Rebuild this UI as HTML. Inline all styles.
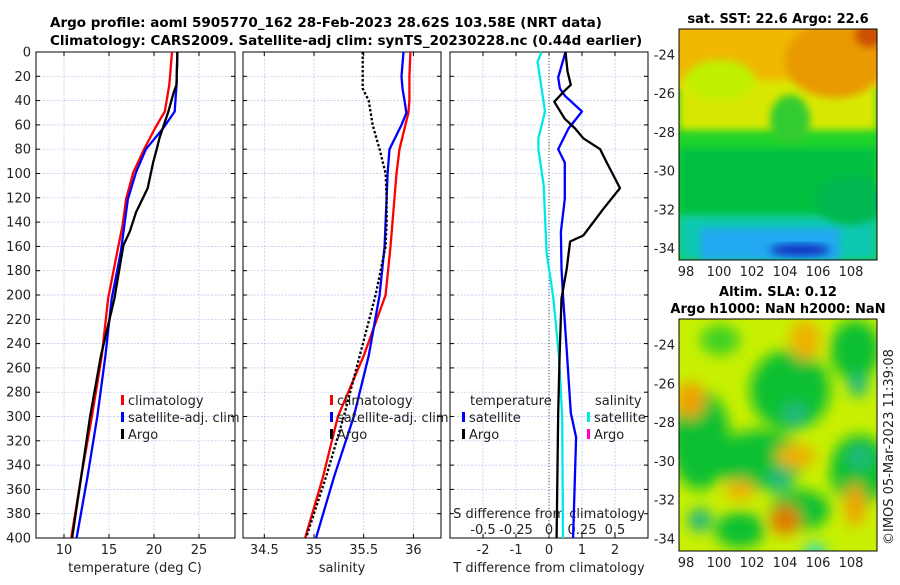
<!DOCTYPE html>
<html><head><meta charset="utf-8"><style>
body{margin:0;background:#fff;}
svg text{font-family:"DejaVu Sans","Liberation Sans",sans-serif;}
</style></head><body>
<svg id="c" width="900" height="580" xmlns="http://www.w3.org/2000/svg">
<defs>
<filter id="blur1" x="-20%" y="-20%" width="140%" height="140%"><feGaussianBlur stdDeviation="4"/></filter>
<filter id="blur2" x="-50%" y="-50%" width="200%" height="200%"><feGaussianBlur stdDeviation="7"/></filter>
<clipPath id="cm1"><rect x="679" y="29" width="198" height="231"/></clipPath>
<clipPath id="cm2"><rect x="679" y="319" width="198" height="232"/></clipPath>
</defs>
<text x="50" y="27" font-size="13.5" font-weight="bold">Argo profile: aoml 5905770_162 28-Feb-2023 28.62S 103.58E (NRT data)</text>
<text x="50" y="45" font-size="13.5" font-weight="bold">Climatology: CARS2009. Satellite-adj clim: synTS_20230228.nc (0.44d earlier)</text>
<g id="g"></g>
<g clip-path="url(#cm1)">
<rect x="679" y="29" width="198" height="231" fill="#1fd42a"/>
<rect x="679" y="29" width="198" height="60" fill="#f0b800"/>
<rect x="679" y="80" width="198" height="50" fill="#d8e800" filter="url(#blur1)"/>
<ellipse cx="835" cy="60" rx="50" ry="38" fill="#e89a00" filter="url(#blur1)"/>
<ellipse cx="870" cy="35" rx="15" ry="12" fill="#cc5000" filter="url(#blur1)"/>
<ellipse cx="720" cy="80" rx="35" ry="20" fill="#c0f000" filter="url(#blur1)"/>
<ellipse cx="790" cy="120" rx="20" ry="25" fill="#30cc30" filter="url(#blur1)"/>
<rect x="679" y="148" width="198" height="70" fill="#00c040" filter="url(#blur1)"/>
<rect x="679" y="215" width="198" height="45" fill="#10c8b0" filter="url(#blur1)"/>
<rect x="700" y="228" width="140" height="32" fill="#20a8f0" filter="url(#blur1)"/>
<ellipse cx="800" cy="250" rx="30" ry="6" fill="#1030c0" filter="url(#blur1)"/>
<ellipse cx="850" cy="200" rx="35" ry="25" fill="#00b850" filter="url(#blur1)"/>
</g>
<rect x="679" y="29" width="198" height="231" fill="none" stroke="#000"/>
<g clip-path="url(#cm2)">
<rect x="679" y="319" width="198" height="232" fill="#c8f000"/>
<g filter="url(#blur2)">
<ellipse cx="790" cy="390" rx="40" ry="40" fill="#10c030"/>
<ellipse cx="700" cy="440" rx="30" ry="50" fill="#10c030"/>
<ellipse cx="760" cy="460" rx="45" ry="30" fill="#10c030"/>
<ellipse cx="860" cy="470" rx="30" ry="35" fill="#10c030"/>
<ellipse cx="855" cy="350" rx="25" ry="30" fill="#10c030"/>
<ellipse cx="800" cy="510" rx="30" ry="20" fill="#10c030"/>
<ellipse cx="740" cy="530" rx="25" ry="18" fill="#10c030"/>
<ellipse cx="720" cy="340" rx="20" ry="15" fill="#40d020"/>
<ellipse cx="858" cy="385" rx="10" ry="12" fill="#20b880"/>
<ellipse cx="795" cy="415" rx="12" ry="12" fill="#20b880"/>
<ellipse cx="780" cy="480" rx="12" ry="12" fill="#20b880"/>
<ellipse cx="860" cy="457" rx="12" ry="12" fill="#20b880"/>
<ellipse cx="700" cy="520" rx="12" ry="12" fill="#20b880"/>
<ellipse cx="815" cy="552" rx="12" ry="8" fill="#20d8d8"/>
<ellipse cx="690" cy="400" rx="15" ry="18" fill="#f0a000"/>
<ellipse cx="785" cy="520" rx="15" ry="15" fill="#e07800"/>
<ellipse cx="796" cy="456" rx="20" ry="12" fill="#f0b000"/>
<ellipse cx="855" cy="505" rx="10" ry="22" fill="#f0a000"/>
<ellipse cx="740" cy="490" rx="15" ry="10" fill="#f0b000"/>
<ellipse cx="805" cy="340" rx="15" ry="20" fill="#f0b000"/>
</g>
</g>
<rect x="679" y="319" width="198" height="232" fill="none" stroke="#000"/>
<text x="778" y="23" font-size="13" font-weight="bold" text-anchor="middle">sat. SST: 22.6 Argo: 22.6</text>
<text x="778" y="296" font-size="13" font-weight="bold" text-anchor="middle">Altim. SLA: 0.12</text>
<text x="778" y="313" font-size="13" font-weight="bold" text-anchor="middle">Argo h1000: NaN h2000: NaN</text>
<text transform="translate(893,545) rotate(-90)" font-size="13" fill="#222">©IMOS 05-Mar-2023 11:39:08</text>
</svg>
<script>
const depths=[0,27,49,63,80,99,121,143,165,203,250,300,350,400];
const tClim=[22.0,21.7,21.2,20.1,18.9,17.7,16.9,16.5,15.9,14.9,14.2,13.1,11.9,10.8];
const tSat=[22.6,22.5,22.3,21.0,19.1,18.0,17.1,16.7,16.3,15.3,14.6,13.7,12.6,11.4];
const aDepths=[0,27,33,49,71,80,91,112,132,148,159,203,250,300,350,400];
const tArgo=[22.6,22.5,22.2,21.6,20.6,20.3,19.9,19.3,18.0,17.3,16.6,15.6,14.1,12.9,11.9,10.9];
const sDepths=[0,20,30,40,50,60,80,100,120,140,160,200,250,300,350,400];
const sClim=[35.97,35.96,35.96,35.96,35.95,35.92,35.86,35.83,35.81,35.79,35.77,35.72,35.50,35.24,35.09,34.91];
const sSat=[35.90,35.88,35.89,35.91,35.93,35.88,35.76,35.74,35.73,35.72,35.71,35.66,35.55,35.40,35.20,35.02];
const sArgo=[35.49,35.49,35.49,35.55,35.57,35.59,35.66,35.72,35.73,35.73,35.72,35.62,35.46,35.30,35.12,34.92];
const dtSatDepths=[0,21,30,36,49,63,80,91,121,148,178,203,250,297,317,400];
const dtSat=[0.5,0.28,0.33,0.48,1.0,0.59,0.28,0.48,0.48,0.36,0.38,0.43,0.55,0.66,0.82,0.73];
const dtArgoDepths=[0,16,27,33,41,55,63,71,80,91,112,129,151,156,178,203,250,297,400];
const dtArgo=[0.5,0.56,0.66,0.43,0.16,0.48,0.79,1.04,1.55,1.75,2.15,1.65,1.04,0.64,0.54,0.38,0.32,0.28,0.23];
const dsDepths=[0,8,49,71,80,110,165,203,250,300,400];
const dsSat=[-0.056,-0.086,-0.03,-0.08,-0.08,-0.04,-0.018,0.033,0.075,0.1,0.106];
const yTicks=[0,20,40,60,80,100,120,140,160,180,200,220,240,260,280,300,320,340,360,380,400];
const tTicks=[10,15,20,25];
const sTicks=[34.5,35,35.5,36];
const dtTicks=[-2,-1,0,1,2];
const dsTicks=[-0.5,-0.25,0,0.25,0.5];
const dsTickLabels=["-0.5","-0.25","0","0.25","0.5"];
const lonTicks=[98,100,102,104,106,108];
const latTicks=[-24,-26,-28,-30,-32,-34];
const argoPos=[103.58,-28.62];

const NS="http://www.w3.org/2000/svg";
const g=document.getElementById('g');
function el(t,a,p){const e=document.createElementNS(NS,t);for(const k in a)e.setAttribute(k,a[k]);(p||g).appendChild(e);return e;}
const yD=d=>52+d*(486/400);
const xT=v=>64+(v-10)*9;
const xS=v=>314+(v-35)*99.4;
const xDT=v=>549+v*33;
const xDS=v=>549+v*132;
function frame(x0,x1,vt,xf,name){
  for(const d of yTicks){const l=el('line',{x1:x0,x2:x1,y1:yD(d),y2:yD(d),stroke:'#b8c4e8','stroke-width':0.7,'stroke-dasharray':'2,1.5'});
    el('line',{x1:x0,x2:x0+4,y1:yD(d),y2:yD(d),stroke:'#000'});el('line',{x1:x1-4,x2:x1,y1:yD(d),y2:yD(d),stroke:'#000'});}
  for(const v of vt){const x=xf(v);const l=el('line',{x1:x,x2:x,y1:52,y2:538,stroke:'#b8c4e8','stroke-width':0.7,'stroke-dasharray':'2,1.5'});
    el('line',{x1:x,x2:x,y1:538,y2:534,stroke:'#000'});el('line',{x1:x,x2:x,y1:52,y2:56,stroke:'#000'});}
  const r=el('rect',{x:x0,y:52,width:x1-x0,height:486,fill:'none',stroke:'#000'});
  
  
}
frame(36,235,tTicks,xT,'temperature-panel');
frame(243,441,sTicks,xS,'salinity-panel');
frame(450,648,dtTicks,xDT,'difference-panel');
for(const d of yTicks){const t=el('text',{x:31,y:yD(d)+4.5,'font-size':13,'text-anchor':'end',fill:'#222'});t.textContent=d;}
function xl(vals,f,y,labels){vals.forEach((v,i)=>{const t=el('text',{x:f(v),y:y,'font-size':13,'text-anchor':'middle',fill:'#222'});t.textContent=labels?labels[i]:v;});}
xl(tTicks,xT,554);xl(sTicks,xS,554);xl(dtTicks,xDT,554);xl(dsTicks,xDS,534,dsTickLabels);
function lbl(x,y,s,name,anchor){const t=el('text',{x:x,y:y,'font-size':13,'text-anchor':anchor||'middle',fill:'#222'});t.textContent=s;}
lbl(135,572,'temperature (deg C)','temperature-axis-title');
lbl(342,572,'salinity','salinity-axis-title');
lbl(549,572,'T difference from climatology','t-diff-axis-title');
lbl(549,518,'S difference from climatology','s-diff-axis-title');
el('line',{x1:549,x2:549,y1:52,y2:538,stroke:'#555','stroke-dasharray':'1,2','stroke-width':1});
function line(xs,ds,f,color,w,dash,name){
  const pts=xs.map((v,i)=>f(v).toFixed(1)+','+yD(ds[i]).toFixed(1)).join(' ');
  const a={points:pts,fill:'none',stroke:color,'stroke-width':w,'stroke-linejoin':'round'};if(dash)a['stroke-dasharray']=dash;
  const p=el('polyline',a);
}
line(tClim,depths,xT,'#ff0000',2.3,null,'temp-climatology-line');
line(tSat,depths,xT,'#0000ff',2.3,null,'temp-satellite-line');
line(tArgo,aDepths,xT,'#000',2.3,null,'temp-argo-line');
line(sClim,sDepths,xS,'#ff0000',2.3,null,'sal-climatology-line');
line(sSat,sDepths,xS,'#0000ff',2.3,null,'sal-satellite-line');
line(sArgo,sDepths,xS,'#000',2.3,'2.5,2','sal-argo-line');
line(dsSat,dsDepths,xDS,'#00e8e8',2.3,null,'sdiff-satellite-line');
line(dtSat,dtSatDepths,xDT,'#0000ff',2.3,null,'tdiff-satellite-line');
line(dtArgo,dtArgoDepths,xDT,'#000',2.3,null,'tdiff-argo-line');
function leg(x,y,c,s,name){const r=el('rect',{x:x,y:y-10,width:3,height:10,fill:c});const t=el('text',{x:x+7,y:y,'font-size':13,fill:'#222'});t.textContent=s;}
leg(121,405,'#ff0000','climatology','legend-climatology');
leg(121,422,'#0000ff','satellite-adj. clim','legend-satellite');
leg(121,439,'#000','Argo','legend-argo');
leg(330,405,'#ff0000','climatology','legend-sal-climatology');
leg(330,422,'#0000ff','satellite-adj. clim','legend-sal-satellite');
leg(330,439,'#000','Argo','legend-sal-argo');
lbl(470,405,'temperature','legend-temp-header','start');
leg(462,422,'#0000ff','satellite','legend-tdiff-satellite');
leg(462,439,'#000','Argo','legend-tdiff-argo');
lbl(595,405,'salinity','legend-sal-header','start');
leg(587,422,'#00e8e8','satellite','legend-sdiff-satellite');
leg(587,439,'#ff00cc','Argo','legend-sdiff-argo');
const mx=v=>686+(v-98)*16.5;
const my1=v=>55+(-24-v)*19.35;
const my2=v=>345+(-24-v)*19.4;
for(const [my,top,bot] of [[my1,29,260],[my2,319,551]]){
  for(const v of lonTicks){el('line',{x1:mx(v),x2:mx(v),y1:bot,y2:bot-4,stroke:'#000'});el('line',{x1:mx(v),x2:mx(v),y1:top,y2:top+4,stroke:'#000'});const t=el('text',{x:mx(v),y:bot+16,'font-size':13,'text-anchor':'middle',fill:'#222'});t.textContent=v;}
  for(const v of latTicks){el('line',{x1:679,x2:683,y1:my(v),y2:my(v),stroke:'#000'});el('line',{x1:873,x2:877,y1:my(v),y2:my(v),stroke:'#000'});const t=el('text',{x:675,y:my(v)+4.5,'font-size':13,'text-anchor':'end',fill:'#222'});t.textContent=v;}
  const c=el('ellipse',{cx:mx(argoPos[0]),cy:my(argoPos[1]),rx:5.5,ry:6,fill:'none',stroke:'#000','stroke-width':1.3});
  
  
}
</script>
</body></html>
